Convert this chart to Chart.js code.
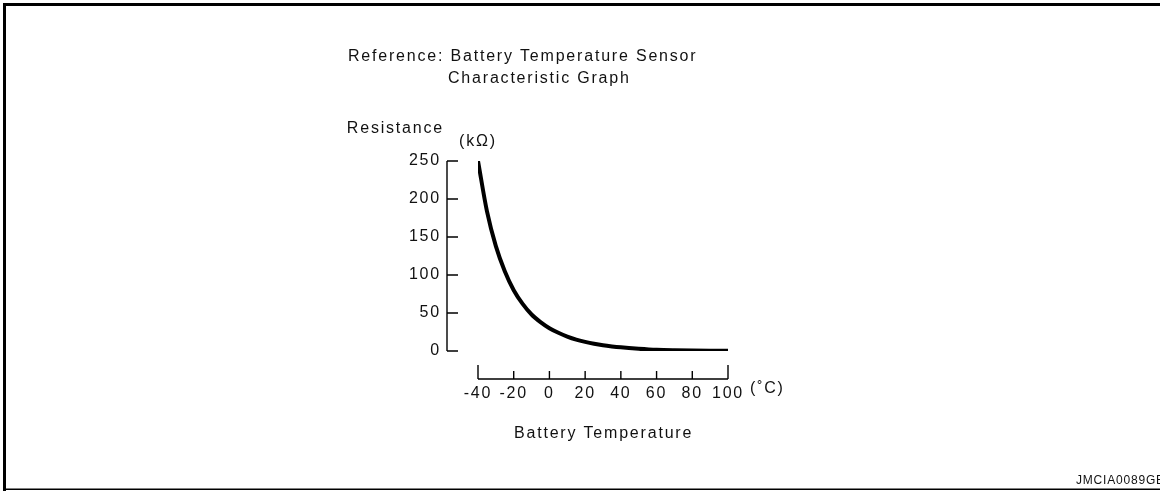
<!DOCTYPE html>
<html>
<head>
<meta charset="utf-8">
<script src="https://cdn.jsdelivr.net/npm/chart.js@4.4.0/dist/chart.umd.min.js"></script>
<style>
  html, body { margin: 0; padding: 0; background: #fff; }
  canvas { display: block; }
</style>
</head>
<body>
<canvas id="c" width="1160" height="491"></canvas>
<script>
// Battery temperature sensor: resistance (kΩ) against temperature (°C)
const temperatures = [-40, -35, -30, -25, -20, -15, -10, -5, 0, 5, 10, 15, 20, 25, 30, 35, 40, 50, 60, 70, 80, 90, 100];
const resistanceKOhm = [250, 184, 138, 105, 80, 62, 48, 38, 30, 24, 19, 15, 12, 9.5, 7.5, 6, 4.8, 3, 1.6, 0.9, 0.5, 0.3, 0.2];
const xTickValues = [-40, -20, 0, 20, 40, 60, 80, 100];
const yTickValues = [0, 50, 100, 150, 200, 250];
const titleLines = ['Reference: Battery Temperature Sensor', 'Characteristic Graph'];
const yAxisTitle = 'Resistance';
const yUnit = '(kΩ)';
const xUnit = '(˚C)';
const xAxisTitle = 'Battery Temperature';
const figureCode = 'JMCIA0089GB';

const FONT = '"Liberation Sans", Arial, Helvetica, sans-serif';
const INK = '#111';
const SPACING = '1.8px';

// Axes are drawn detached from the plot area, like a technical drawing
const Y_AXIS_GAP = 31;   // px left of plot area
const X_AXIS_GAP = 28;   // px below plot area

const drawingPlugin = {
  id: 'drawing',
  beforeDraw(chart) {
    chart.ctx.letterSpacing = SPACING;
  },
  afterDraw(chart) {
    const ctx = chart.ctx;
    const area = chart.chartArea;
    const xs = chart.scales.x;
    const ys = chart.scales.y;
    ctx.save();
    ctx.letterSpacing = '0px';
    ctx.fillStyle = '#000';
    // frame: heavy top and left, thin bottom
    ctx.fillRect(3, 3, 1157, 3);
    ctx.fillRect(3, 3, 3, 488);
    ctx.fillRect(3, 488.5, 1157, 1.5);

    // y axis with inward ticks
    ctx.strokeStyle = '#000';
    ctx.lineWidth = 1.4;
    const ax = area.left - Y_AXIS_GAP;
    const yTop = ys.getPixelForValue(yTickValues[yTickValues.length - 1]);
    const yBot = ys.getPixelForValue(yTickValues[0]);
    ctx.beginPath();
    ctx.moveTo(ax, yTop);
    ctx.lineTo(ax, yBot);
    yTickValues.forEach(v => {
      const p = ys.getPixelForValue(v);
      ctx.moveTo(ax, p);
      ctx.lineTo(ax + 11, p);
    });
    ctx.stroke();

    // x axis with upward ticks, taller at both ends
    const ay = area.bottom + X_AXIS_GAP;
    const xL = xs.getPixelForValue(xTickValues[0]);
    const xR = xs.getPixelForValue(xTickValues[xTickValues.length - 1]);
    ctx.beginPath();
    ctx.moveTo(xL, ay);
    ctx.lineTo(xR, ay);
    xTickValues.forEach((v, i) => {
      const p = xs.getPixelForValue(v);
      const len = (i === 0 || i === xTickValues.length - 1) ? 14 : 8;
      ctx.moveTo(p, ay);
      ctx.lineTo(p, ay - len);
    });
    ctx.stroke();

    // texts
    ctx.letterSpacing = SPACING;
    ctx.fillStyle = INK;
    ctx.textBaseline = 'middle';
    ctx.font = '16px ' + FONT;
    ctx.textAlign = 'left';
    ctx.fillText(titleLines[0], 348, 57);
    ctx.fillText(titleLines[1], 448, 79);
    ctx.textAlign = 'right';
    ctx.fillText(yAxisTitle, 444, 129);
    ctx.textAlign = 'left';
    ctx.fillText(yUnit, 459, 142);
    ctx.fillText(xUnit, 750, 389);
    ctx.fillText(xAxisTitle, 514, 434);
    ctx.letterSpacing = '0.8px';
    ctx.font = '12px ' + FONT;
    ctx.fillText(figureCode, 1076, 481);
    ctx.restore();
  }
};

new Chart(document.getElementById('c'), {
  type: 'line',
  data: {
    datasets: [{
      data: temperatures.map((t, i) => ({ x: t, y: resistanceKOhm[i] })),
      borderColor: '#000',
      borderWidth: 4,
      pointRadius: 0,
      cubicInterpolationMode: 'monotone',
      fill: false
    }]
  },
  options: {
    responsive: false,
    animation: false,
    devicePixelRatio: 1,
    layout: { padding: { left: 378, right: 432, top: 161, bottom: 80 } },
    plugins: { legend: { display: false }, tooltip: { enabled: false }, title: { display: false } },
    scales: {
      x: {
        type: 'linear',
        min: -40,
        max: 100,
        afterBuildTicks: s => { s.ticks = xTickValues.map(v => ({ value: v })); },
        afterFit: s => { s.height = 60; },
        grid: { display: false },
        border: { display: false },
        ticks: { color: INK, font: { family: FONT, size: 16 }, padding: 25, maxRotation: 0, autoSkip: false }
      },
      y: {
        type: 'linear',
        min: 0,
        max: 250,
        afterBuildTicks: s => { s.ticks = yTickValues.map(v => ({ value: v })); },
        afterFit: s => { s.width = 100; },
        grid: { display: false },
        border: { display: false },
        ticks: { color: INK, font: { family: FONT, size: 16 }, padding: 29, autoSkip: false }
      }
    }
  },
  plugins: [drawingPlugin]
});
</script>
</body>
</html>
